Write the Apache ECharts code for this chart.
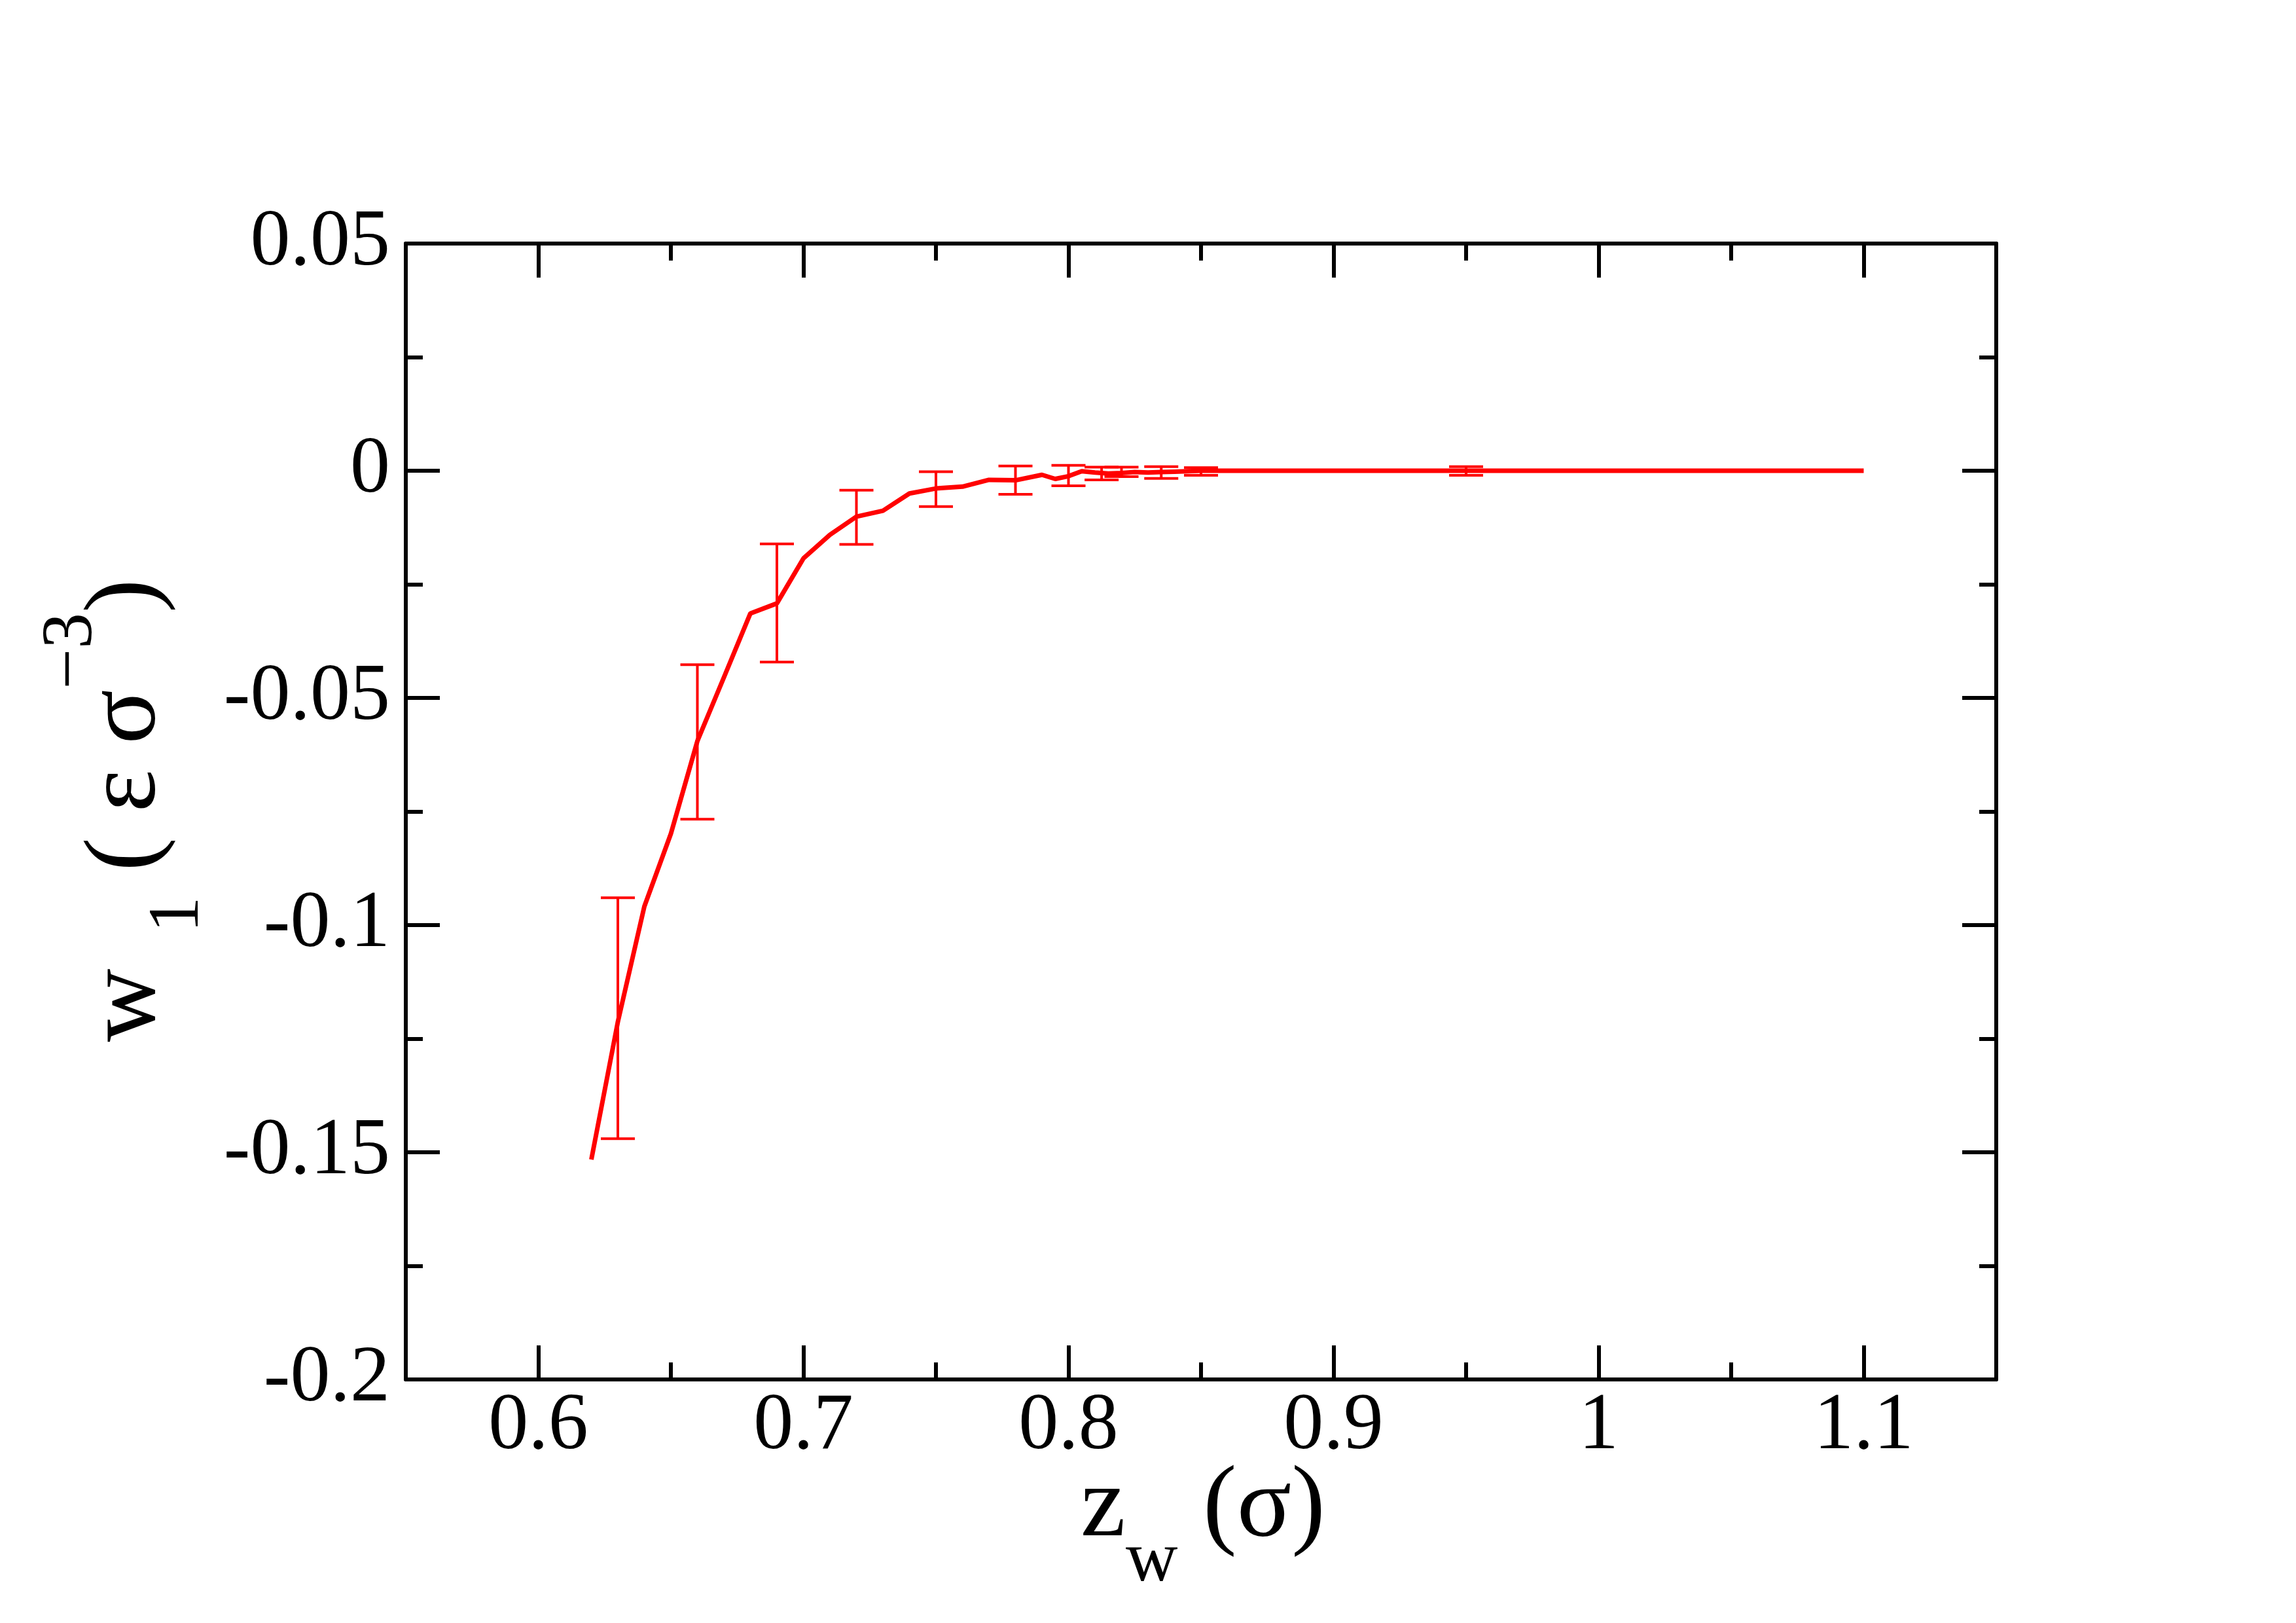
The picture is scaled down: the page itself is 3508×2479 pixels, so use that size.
<!DOCTYPE html>
<html>
<head>
<meta charset="utf-8">
<script src="https://cdn.jsdelivr.net/npm/echarts@6/dist/echarts.min.js"></script>
<style>
  html, body { margin: 0; padding: 0; background: #fff; }
  #chart { width: 3508px; height: 2479px; }
</style>
</head>
<body>
<div id="chart"></div>
<script>
// ---- data ----
const zw = [0.62, 0.63, 0.64, 0.65, 0.66, 0.67, 0.68, 0.69, 0.70, 0.71, 0.72, 0.73, 0.74, 0.75, 0.76, 0.77, 0.78, 0.79, 0.795, 0.80, 0.805, 0.81, 0.815, 0.82, 0.825, 0.83, 0.835, 0.84, 0.845, 0.85, 0.86, 0.90, 0.95, 1.00, 1.05, 1.10];
const w1 = [-0.1516, -0.1213, -0.0959, -0.0799, -0.0595, -0.0455, -0.0314, -0.0292, -0.0193, -0.0141, -0.0101, -0.0088, -0.0050, -0.0039, -0.0035, -0.0020, -0.0021, -0.0009, -0.0018, -0.0012, -0.0001, -0.0004, -0.0006, -0.0005, -0.0003, -0.0004, -0.0003, -0.0002, -0.0001, 0, 0, 0, 0, 0, 0, 0];

const errX  = [0.63, 0.66, 0.69, 0.72, 0.75, 0.78, 0.80, 0.8125, 0.82, 0.835, 0.85, 0.95];
const errHi = [-0.0940, -0.0427, -0.0161, -0.0043, -0.0002, 0.00105, 0.0012, 0.0008, 0.0008, 0.0009, 0.0007, 0.0009];
const errLo = [-0.1470, -0.0767, -0.0421, -0.0162, -0.0079, -0.0052, -0.0033, -0.0020, -0.0013, -0.0017, -0.0010, -0.0010];

const xMajorTicks = [0.6, 0.7, 0.8, 0.9, 1.0, 1.1];
const xTickLabels = ['0.6', '0.7', '0.8', '0.9', '1', '1.1'];
const yMajorTicks = [-0.2, -0.15, -0.1, -0.05, 0, 0.05];
const yTickLabels = ['-0.2', '-0.15', '-0.1', '-0.05', '0', '0.05'];

// ---- styling ----
const FONT = 'Liberation Serif';
const RED = '#ff0000';
const BLACK = '#000000';
const FRAME_W = 6;
const MAJOR_LEN = 52;
const MINOR_LEN = 26;

function lookup(vals, labels) {
  return function (v) {
    for (let i = 0; i < vals.length; i++) {
      if (Math.abs(vals[i] - v) < 1e-6) return labels[i];
    }
    return '';
  };
}

function xAxisCfg(pos, major, labels) {
  return {
    type: 'value', position: pos, min: 0.55, max: 1.15, interval: 0.05,
    axisLine: { show: !major, onZero: false, lineStyle: { color: BLACK, width: FRAME_W } },
    axisTick: Object.assign({ show: true, inside: true, length: major ? MAJOR_LEN : MINOR_LEN,
      lineStyle: { color: BLACK, width: FRAME_W } }, major ? { customValues: xMajorTicks } : {}),
    axisLabel: { show: labels, customValues: xMajorTicks, formatter: lookup(xMajorTicks, xTickLabels),
      margin: 12, fontSize: 122, fontFamily: FONT, color: BLACK },
    splitLine: { show: false }
  };
}
function yAxisCfg(pos, major, labels) {
  return {
    type: 'value', position: pos, min: -0.2, max: 0.05, interval: 0.025,
    axisLine: { show: !major, onZero: false, lineStyle: { color: BLACK, width: FRAME_W } },
    axisTick: Object.assign({ show: true, inside: true, length: major ? MAJOR_LEN : MINOR_LEN,
      lineStyle: { color: BLACK, width: FRAME_W } }, major ? { customValues: yMajorTicks } : {}),
    axisLabel: { show: labels, customValues: yMajorTicks, formatter: lookup(yMajorTicks, yTickLabels),
      margin: 24, fontSize: 122, fontFamily: FONT, color: BLACK },
    splitLine: { show: false }
  };
}

const chart = echarts.init(document.getElementById('chart'), null, { renderer: 'canvas' });

const option = {
  backgroundColor: '#ffffff',
  animation: false,
  grid: { left: 620, top: 372, width: 2430, height: 1735, containLabel: false },
  xAxis: [
    xAxisCfg('bottom', false, true),
    xAxisCfg('bottom', true, false),
    xAxisCfg('top', false, false),
    xAxisCfg('top', true, false)
  ],
  yAxis: [
    yAxisCfg('left', false, true),
    yAxisCfg('left', true, false),
    yAxisCfg('right', false, false),
    yAxisCfg('right', true, false)
  ],
  series: [
    {
      type: 'custom',
      xAxisIndex: 0, yAxisIndex: 0,
      data: errX.map((x, i) => [x, errHi[i], errLo[i]]),
      encode: { x: 0, y: [1, 2] },
      clip: false,
      renderItem: function (params, api) {
        const x = api.value(0);
        const top = api.coord([x, api.value(1)]);
        const bot = api.coord([x, api.value(2)]);
        const hw = 26;
        const st = { stroke: RED, lineWidth: 4 };
        return {
          type: 'group',
          children: [
            { type: 'line', shape: { x1: top[0], y1: top[1], x2: bot[0], y2: bot[1] }, style: st },
            { type: 'line', shape: { x1: top[0] - hw, y1: top[1], x2: top[0] + hw, y2: top[1] }, style: st },
            { type: 'line', shape: { x1: bot[0] - hw, y1: bot[1], x2: bot[0] + hw, y2: bot[1] }, style: st }
          ]
        };
      }
    },
    {
      type: 'line',
      xAxisIndex: 0, yAxisIndex: 0,
      data: zw.map((x, i) => [x, w1[i]]),
      showSymbol: false,
      symbol: 'none',
      lineStyle: { color: RED, width: 7 },
      itemStyle: { color: RED }
    }
  ],
  graphic: [
    {
      type: 'text',
      x: 1838, y: 2227,
      style: {
        text: '{m|z}{s|w}{m| (}{g|σ}{m|)}',
        align: 'center', textAlign: 'center',
        verticalAlign: 'top', textVerticalAlign: 'top',
        fill: BLACK,
        rich: {
          m: { fontSize: 155, fontFamily: FONT, color: BLACK, verticalAlign: 'top' },
          g: { fontSize: 155, fontFamily: FONT, color: BLACK, verticalAlign: 'top' },
          s: { fontSize: 110, fontFamily: FONT, color: BLACK, verticalAlign: 'top', padding: [103, 0, 0, 0] }
        }
      }
    },
    {
      type: 'text',
      x: 55, y: 1238,
      rotation: Math.PI / 2,
      style: {
        text: '{m|w}{s|  1}{m| ( ε }{g|σ}{p|−3}{m|)}',
        align: 'center', textAlign: 'center',
        verticalAlign: 'top', textVerticalAlign: 'top',
        fill: BLACK,
        rich: {
          m: { fontSize: 155, fontFamily: FONT, color: BLACK, verticalAlign: 'top', padding: [62, 0, 0, 0] },
          g: { fontSize: 155, fontFamily: FONT, color: BLACK, verticalAlign: 'top', padding: [62, 0, 0, 0] },
          s: { fontSize: 110, fontFamily: FONT, color: BLACK, verticalAlign: 'top', padding: [163, 0, 0, 0] },
          p: { fontSize: 110, fontFamily: FONT, color: BLACK, verticalAlign: 'top', padding: [0, 0, 0, 0] }
        }
      }
    }
  ]
};

chart.setOption(option);
</script>
</body>
</html>
